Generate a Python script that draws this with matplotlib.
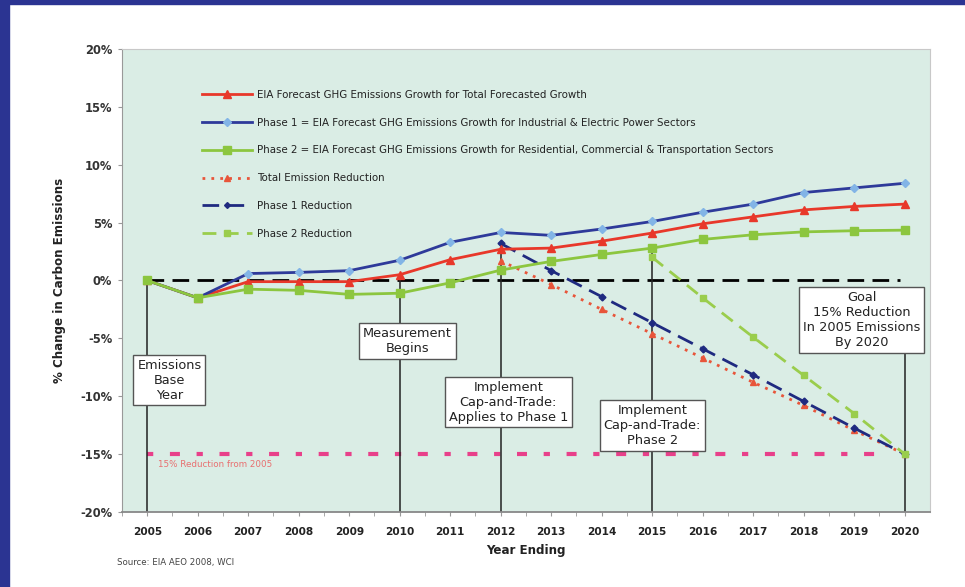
import matplotlib.pyplot as plt
from matplotlib.patches import Rectangle

# Emissions growth forecasts (% change vs 2005)
years = list(range(2005, 2021))
total_growth = [0, -1.5, -0.1, -0.1, -0.1, 0.5, 1.8, 2.7, 2.8, 3.4, 4.1, 4.9, 5.5, 6.1, 6.4, 6.6]
phase1_growth = [0, -1.5, 0.6, 0.7, 0.85, 1.75, 3.3, 4.15, 3.9, 4.45, 5.1, 5.9, 6.6, 7.6, 8.0, 8.4]
phase2_growth = [0, -1.5, -0.75, -0.85, -1.2, -1.1, -0.2, 0.9, 1.65, 2.25, 2.8, 3.55, 3.95, 4.2, 4.3, 4.35]

# Reduction pathways
total_red_years = list(range(2012, 2021))
total_reduction = [1.7, -0.35, -2.5, -4.6, -6.7, -8.8, -10.8, -12.95, -15]
phase1_red_years = list(range(2012, 2021))
phase1_reduction = [3.2, 0.85, -1.4, -3.65, -5.9, -8.15, -10.45, -12.75, -15]
phase2_red_years = list(range(2015, 2021))
phase2_reduction = [2.0, -1.5, -4.9, -8.2, -11.5, -15]

goal = -15

# Milestones: year, top of the marker line, box text, box centre
milestone_years = [2005, 2010, 2012, 2015, 2020]
milestone_tops = [0, 0.5, 3.2, 2.8, -1]
milestone_text = ["Emissions\nBase\nYear", "Measurement\nBegins",
                  "Implement\nCap-and-Trade:\nApplies to Phase 1",
                  "Implement\nCap-and-Trade:\nPhase 2",
                  "Goal\n15% Reduction\nIn 2005 Emissions\nBy 2020"]
milestone_box_x = [2005.44, 2010.15, 2012.15, 2015.0, 2019.15]
milestone_box_y = [-8.6, -5.2, -10.5, -12.5, -3.4]

labels = ["EIA Forecast GHG Emissions Growth for Total Forecasted Growth",
          "Phase 1 = EIA Forecast GHG Emissions Growth for Industrial & Electric Power Sectors",
          "Phase 2 = EIA Forecast GHG Emissions Growth for Residential, Commercial & Transportation Sectors",
          "Total Emission Reduction",
          "Phase 1 Reduction",
          "Phase 2 Reduction"]

fig = plt.figure(figsize=(9.65, 5.87), dpi=100)
fig.patch.set_facecolor("white")
# blue frame on top and left
fig.patches.append(Rectangle((0, 0), 9 / 965, 1, transform=fig.transFigure,
                             color="#2b3492", zorder=0))
fig.patches.append(Rectangle((0, 1 - 4 / 587), 1, 4 / 587, transform=fig.transFigure,
                             color="#2b3492", zorder=0))

ax = fig.add_axes([0.1264, 0.1278, 0.8373, 0.7887])
ax.set_facecolor("#daede5")

# reference lines
ax.plot([2005, 2019.9], [0, 0], color="black", lw=2, ls=(0, (6, 3)), zorder=2)
ax.plot([2005, 2019.7], [goal, goal], color="#e8408a", lw=3,
        ls=(0, (1.5, 4, 2.4, 4)), zorder=2)
ax.text(2005.22, -15.9, "15% Reduction from 2005", color="#e87070",
        fontsize=6.3, va="center", ha="left")

ax.vlines(milestone_years, -20, milestone_tops, color="#222222", lw=1.1, zorder=2)

l1, = ax.plot(years, total_growth, color="#e8382a", lw=2, marker="^", ms=6, zorder=4)
l2, = ax.plot(years, phase1_growth, color="#2e3a9a", lw=2, marker="D", ms=4.5,
              mfc="#82b4e6", mec="#82b4e6", zorder=4)
l3, = ax.plot(years, phase2_growth, color="#8cc63f", lw=2, marker="s", ms=6, zorder=4)
l4, = ax.plot(total_red_years, total_reduction, color="#e8553a", lw=2, ls=(0, (1, 2.2)),
              marker="^", ms=5, zorder=3)
l5, = ax.plot(phase1_red_years, phase1_reduction, color="#1f2a80", lw=2, ls=(0, (6, 3)),
              marker="D", ms=3.5, zorder=3)
l6, = ax.plot(phase2_red_years, phase2_reduction, color="#9acd4c", lw=2, ls=(0, (5, 3)),
              marker="s", ms=5, zorder=3)

for x, y, t in zip(milestone_box_x, milestone_box_y, milestone_text):
    ax.text(x, y, t, ha="center", va="center", fontsize=9.3, color="#222222",
            linespacing=1.2, zorder=6,
            bbox=dict(boxstyle="square,pad=0.3", fc="white", ec="#555555", lw=1))

leg = ax.legend([l1, l2, l3, l4, l5, l6], labels, loc="upper left",
                bbox_to_anchor=(0.099, 0.912), frameon=False, fontsize=7.4,
                handlelength=4.9, handletextpad=0.5, labelspacing=1.73,
                borderaxespad=0, borderpad=0, numpoints=1, markerscale=0.85)
for t in leg.get_texts():
    t.set_color("#222222")

ax.set_xlim(2004.5, 2020.5)
ax.set_ylim(-20, 20)
ax.set_xticks(years)
ax.set_xticks([y + 0.5 for y in years[:-1]] + [2004.5], minor=True)
ax.set_yticks(range(-20, 21, 5))
ax.set_yticklabels([f"{v}%" for v in range(-20, 21, 5)])

for side in ["top", "right"]:
    ax.spines[side].set_color("#c8c8c8")
ax.spines["left"].set_color("#999999")
ax.spines["bottom"].set_color("#888888")
ax.spines["bottom"].set_linewidth(1.3)
ax.tick_params(axis="both", which="both", direction="out", length=3, color="#999999")
ax.tick_params(axis="x", pad=8, labelsize=7.6, labelcolor="#222222")
ax.tick_params(axis="y", pad=4, labelsize=8.3, labelcolor="#333333")
for lab in ax.get_xticklabels() + ax.get_yticklabels():
    lab.set_fontweight("bold")

ax.set_xlabel("Year Ending", fontsize=8.6, fontweight="bold", color="#222222", labelpad=5)
ax.set_ylabel("% Change in Carbon Emissions", fontsize=8.6, fontweight="bold",
              color="#222222", labelpad=10)

fig.text(117 / 965, 1 - 563 / 587, "Source: EIA AEO 2008, WCI", fontsize=6.2,
         color="#444444", va="center", ha="left")

fig.savefig("out.png", dpi=100)
